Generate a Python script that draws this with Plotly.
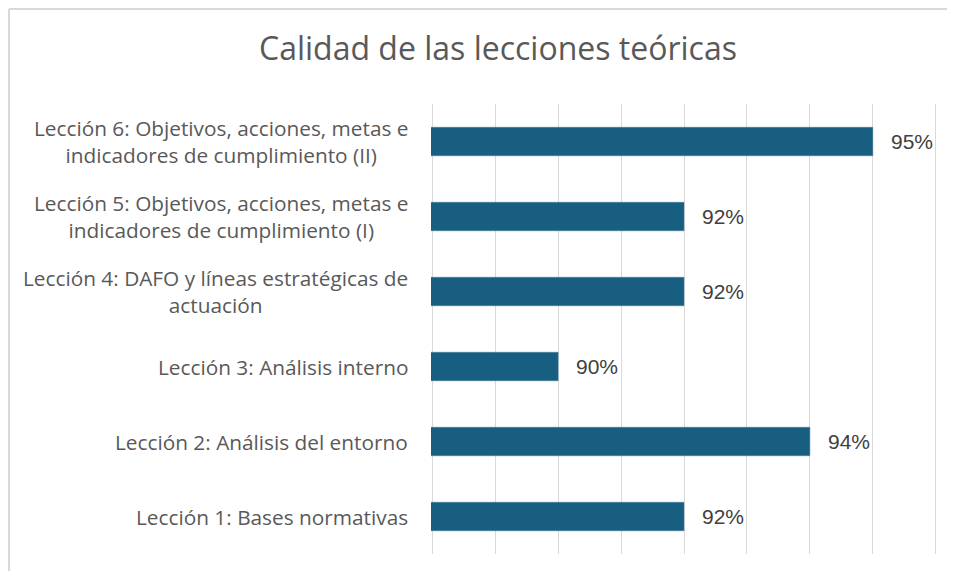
import plotly.graph_objects as go

# Data (bottom to top)
lecciones = [
    "Lección 1: Bases normativas",
    "Lección 2: Análisis del entorno",
    "Lección 3: Análisis interno",
    "Lección 4: DAFO y líneas estratégicas de<br>actuación",
    "Lección 5: Objetivos, acciones, metas e<br>indicadores de cumplimiento (I)",
    "Lección 6: Objetivos, acciones, metas e<br>indicadores de cumplimiento (II)",
]
calidad = [0.92, 0.94, 0.90, 0.92, 0.92, 0.95]
eje_x = [0.88, 0.96]

BAR   = "#185E80"
GRID  = "#D9D9D9"
TEXT  = "#595959"
LABEL = "#404040"

# the page body adds an 8px margin, so the figure is sized to fit inside it
W, H = 939, 563
L, R, T, B = 423, 10, 96, 17
PW, PH = W - L - R, H - T - B

fig = go.Figure()
fig.add_trace(go.Bar(
    y           = lecciones,
    x           = calidad,
    orientation = "h",
    marker      = dict(color=BAR, line=dict(color="#3F7E9C", width=0.5)),
    width       = 0.38,
    hoverinfo   = "skip",
))

# value labels to the right of each bar
for cat, v in zip(lecciones, calidad):
    fig.add_annotation(
        x=v, y=cat, xref="x", yref="y",
        text=f"{v:.0%}", showarrow=False,
        xanchor="left", xshift=16,
        font=dict(family="Liberation Sans, Arial", size=21, color=LABEL),
    )

# category labels, centred multi-line like the original
for cat in lecciones:
    fig.add_annotation(
        x=-21 / PW, y=cat, xref="paper", yref="y",
        text=cat, showarrow=False,
        xanchor="right", align="center",
        font=dict(family="Open Sans", size=20.8, color=TEXT),
    )

# light frame (top and left edge visible)
fx = (1 - L) / PW
fy = (H - 1 - B) / PH
fig.add_shape(type="line", xref="paper", yref="paper",
              x0=fx, x1=(W + 10 - L) / PW, y0=fy, y1=fy,
              line=dict(color=GRID, width=2))
fig.add_shape(type="line", xref="paper", yref="paper",
              x0=fx, x1=fx, y0=fy, y1=-(B + 10) / PH,
              line=dict(color=GRID, width=2))

pad = 0.0002  # keeps the gridlines at both range ends visible
fig.update_xaxes(
    range=[eje_x[0] - pad, eje_x[1] + pad],
    tick0=0, dtick=0.01, showticklabels=False,
    showgrid=True, gridcolor=GRID, gridwidth=1,
    zeroline=False, showline=False,
)
fig.update_yaxes(showticklabels=False, showgrid=False, zeroline=False)

fig.update_layout(
    width=W, height=H,
    margin=dict(l=L, r=R, t=T, b=B),
    paper_bgcolor="white", plot_bgcolor="white",
    showlegend=False,
    title=dict(
        text="Calidad de las lecciones teóricas",
        font=dict(family="Open Sans", size=32, color=TEXT),
        x=490 / W, xanchor="center",
        y=1 - 41 / H, yanchor="middle",
    ),
)

fig.write_html("out.html")
